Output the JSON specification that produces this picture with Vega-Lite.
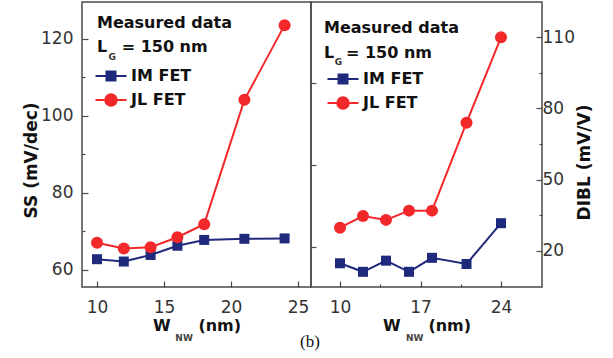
{
  "$schema": "https://vega.github.io/schema/vega-lite/v6.json",
  "padding": {"left": 21, "top": 1, "right": 5, "bottom": 5},
  "background": "white",
  "datasets": {
    "ss": [
      {"w": 10, "series": "IM FET", "v": 62.8},
      {"w": 12, "series": "IM FET", "v": 62.2},
      {"w": 14, "series": "IM FET", "v": 63.9},
      {"w": 16, "series": "IM FET", "v": 66.3},
      {"w": 18, "series": "IM FET", "v": 67.8},
      {"w": 21, "series": "IM FET", "v": 68.1},
      {"w": 24, "series": "IM FET", "v": 68.2},
      {"w": 10, "series": "JL FET", "v": 67.1},
      {"w": 12, "series": "JL FET", "v": 65.6},
      {"w": 14, "series": "JL FET", "v": 65.9},
      {"w": 16, "series": "JL FET", "v": 68.5},
      {"w": 18, "series": "JL FET", "v": 71.9},
      {"w": 21, "series": "JL FET", "v": 104.2},
      {"w": 24, "series": "JL FET", "v": 123.6}
    ],
    "dibl": [
      {"w": 10, "series": "IM FET", "v": 14.7},
      {"w": 12, "series": "IM FET", "v": 11.1},
      {"w": 14, "series": "IM FET", "v": 15.8},
      {"w": 16, "series": "IM FET", "v": 11.1},
      {"w": 18, "series": "IM FET", "v": 17.0},
      {"w": 21, "series": "IM FET", "v": 14.4},
      {"w": 24, "series": "IM FET", "v": 31.6},
      {"w": 10, "series": "JL FET", "v": 29.7},
      {"w": 12, "series": "JL FET", "v": 34.6},
      {"w": 14, "series": "JL FET", "v": 33.0},
      {"w": 16, "series": "JL FET", "v": 36.9},
      {"w": 18, "series": "JL FET", "v": 36.9},
      {"w": 21, "series": "JL FET", "v": 74.0},
      {"w": 24, "series": "JL FET", "v": 110.0}
    ],
    "one": [{}]
  },
  "config": {
    "font": "DejaVu Sans",
    "view": {"stroke": "#4a4a4a", "strokeWidth": 1.5},
    "axis": {
      "domain": false, "grid": false,
      "labelFont": "DejaVu Sans", "labelFontSize": 17, "labelColor": "#333",
      "labelFlush": false, "labelOverlap": false,
      "titleFont": "DejaVu Sans", "titleFontWeight": "bold", "titleColor": "#111",
      "tickColor": "#4a4a4a", "tickWidth": 1.2
    },
    "legend": {
      "orient": "none", "title": null, "padding": 0,
      "labelFont": "DejaVu Sans", "labelFontSize": 16, "labelFontWeight": "bold", "labelColor": "#111",
      "symbolSize": 100, "symbolStrokeWidth": 2, "labelOffset": 12, "rowPadding": 5
    }
  },
  "title": {"text": "(b)", "orient": "bottom", "anchor": "middle", "font": "Liberation Serif", "fontSize": 17, "fontWeight": "normal", "color": "#111", "offset": -10, "dx": 3},
  "spacing": 0,
  "bounds": "flush",
  "resolve": {"scale": {"color": "independent"}, "legend": {"color": "independent"}},
  "hconcat": [
    {
      "width": 229, "height": 285,
      "layer": [
        {
          "data": {"name": "ss"},
          "mark": {"type": "line", "strokeWidth": 2},
          "encoding": {
            "x": {"field": "w", "type": "quantitative", "scale": {"domain": [8.881, 25.97], "nice": false, "zero": false},
              "axis": {"values": [10, 12.5, 15, 17.5, 20, 22.5, 25], "labelExpr": "datum.value % 5 === 0 ? datum.label : ''",
                "title": "W\u00a0\u00a0\u00a0\u00a0 (nm)", "titleFontSize": 16, "titleY": 43, "titleBaseline": "alphabetic",
                "labelPadding": 18, "tickSize": {"condition": {"test": "datum.value % 5 !== 0", "value": -3}, "value": -6}}},
            "y": {"field": "v", "type": "quantitative", "scale": {"domain": [55.58, 129.61], "nice": false, "zero": false},
              "axis": {"values": [60, 70, 80, 90, 100, 110, 120], "labelExpr": "datum.value % 20 === 0 ? datum.label : ''",
                "title": "SS (mV/dec)", "titleFontSize": 17, "titleX": -51, "titleY": 158, "titleBaseline": "middle", "titleAngle": 270,
                "labelPadding": 15, "tickSize": {"condition": {"test": "datum.value % 20 !== 0", "value": -3}, "value": -6}}},
            "color": {"field": "series", "type": "nominal", "scale": {"domain": ["IM FET", "JL FET"], "range": ["#1f2a7c", "#f2282b"]},
              "legend": {"legendX": 21, "legendY": 66,
                "encoding": {"symbols": {
                  "shape": {"value": {"expr": "datum.value === 'IM FET' ? 'M-3.1,0H3.1M-0.9,-0.9H0.9V0.9H-0.9Z' : 'M-3.1,0H3.1M-1.15,0A1.15,1.15,0,1,1,1.15,0A1.15,1.15,0,1,1,-1.15,0Z'"}},
                  "fill": {"value": {"expr": "datum.value === 'IM FET' ? '#1f2a7c' : '#f2282b'"}},
                  "stroke": {"value": {"expr": "datum.value === 'IM FET' ? '#1f2a7c' : '#f2282b'"}},
                  "strokeWidth": {"value": 2}, "opacity": {"value": 1}, "fillOpacity": {"value": 1}}}}}
          }
        },
        {
          "data": {"name": "ss"},
          "mark": {"type": "point", "filled": true, "opacity": 1},
          "encoding": {
            "x": {"field": "w", "type": "quantitative"},
            "y": {"field": "v", "type": "quantitative"},
            "color": {"field": "series", "type": "nominal"},
            "shape": {"field": "series", "type": "nominal", "scale": {"domain": ["IM FET", "JL FET"], "range": ["square", "circle"]}, "legend": null},
            "size": {"field": "series", "type": "nominal", "scale": {"domain": ["IM FET", "JL FET"], "range": [100, 144]}, "legend": null}
          }
        },
        {
          "data": {"name": "one"},
          "mark": {"type": "text", "align": "left", "baseline": "alphabetic", "fontSize": 16, "fontWeight": "bold", "color": "#111"},
          "encoding": {"x": {"datum": 10.0, "type": "quantitative"}, "y": {"datum": 122.9, "type": "quantitative"}, "text": {"value": "Measured data"}}
        },
        {
          "data": {"name": "one"},
          "mark": {"type": "text", "align": "left", "baseline": "alphabetic", "fontSize": 16, "fontWeight": "bold", "color": "#111"},
          "encoding": {"x": {"datum": 10.0, "type": "quantitative"}, "y": {"datum": 116.6, "type": "quantitative"}, "text": {"value": "L"}}
        },
        {
          "data": {"name": "one"},
          "mark": {"type": "text", "align": "left", "baseline": "alphabetic", "fontSize": 9, "fontWeight": "bold", "color": "#333"},
          "encoding": {"x": {"datum": 10.85, "type": "quantitative"}, "y": {"datum": 114.5, "type": "quantitative"}, "text": {"value": "G"}}
        },
        {
          "data": {"name": "one"},
          "mark": {"type": "text", "align": "left", "baseline": "alphabetic", "fontSize": 16, "fontWeight": "bold", "color": "#111"},
          "encoding": {"x": {"datum": 11.84, "type": "quantitative"}, "y": {"datum": 116.6, "type": "quantitative"}, "text": {"value": "= 150 nm"}}
        },
        {
          "data": {"name": "one"},
          "mark": {"type": "text", "align": "center", "baseline": "alphabetic", "fontSize": 9, "fontWeight": "bold", "color": "#444"},
          "encoding": {"x": {"datum": 16.5, "type": "quantitative"}, "y": {"datum": 41.56, "type": "quantitative"}, "text": {"value": "NW"}}
        }
      ]
    },
    {
      "width": 231, "height": 285,
      "resolve": {"axis": {"y": "independent"}},
      "layer": [
        {
          "data": {"name": "dibl"},
          "mark": {"type": "line", "strokeWidth": 2},
          "encoding": {
            "x": {"field": "w", "type": "quantitative", "scale": {"domain": [7.478, 27.565], "nice": false, "zero": false},
              "axis": {"values": [10, 13.5, 17, 20.5, 24], "labelExpr": "(datum.value - 10) % 7 === 0 ? datum.label : ''",
                "title": "W\u00a0\u00a0\u00a0\u00a0 (nm)", "titleFontSize": 16, "titleY": 43, "titleBaseline": "alphabetic",
                "labelPadding": 18, "tickSize": {"condition": {"test": "(datum.value - 10) % 7 !== 0", "value": -3}, "value": -6}}},
            "y": {"field": "v", "type": "quantitative", "scale": {"domain": [4.69, 124.89], "nice": false, "zero": false},
              "axis": {"orient": "right", "values": [20, 35, 50, 65, 80, 95, 110], "labelExpr": "(datum.value - 20) % 30 === 0 ? datum.label : ''",
                "title": "DIBL (mV/V)", "titleFontSize": 17, "titleX": 42, "titleY": 160, "titleBaseline": "middle", "titleAngle": 270,
                "labelPadding": 6, "labelAlign": "left", "tickSize": {"condition": {"test": "(datum.value - 20) % 30 !== 0", "value": -3}, "value": -6}}},
            "color": {"field": "series", "type": "nominal", "scale": {"domain": ["IM FET", "JL FET"], "range": ["#1f2a7c", "#f2282b"]},
              "legend": {"legendX": 24, "legendY": 69,
                "encoding": {"symbols": {
                  "shape": {"value": {"expr": "datum.value === 'IM FET' ? 'M-3.1,0H3.1M-0.9,-0.9H0.9V0.9H-0.9Z' : 'M-3.1,0H3.1M-1.15,0A1.15,1.15,0,1,1,1.15,0A1.15,1.15,0,1,1,-1.15,0Z'"}},
                  "fill": {"value": {"expr": "datum.value === 'IM FET' ? '#1f2a7c' : '#f2282b'"}},
                  "stroke": {"value": {"expr": "datum.value === 'IM FET' ? '#1f2a7c' : '#f2282b'"}},
                  "strokeWidth": {"value": 2}, "opacity": {"value": 1}, "fillOpacity": {"value": 1}}}}}
          }
        },
        {
          "data": {"name": "dibl"},
          "mark": {"type": "point", "filled": true, "opacity": 1},
          "encoding": {
            "x": {"field": "w", "type": "quantitative"},
            "y": {"field": "v", "type": "quantitative",
              "axis": {"orient": "left", "values": [21.6, 56.2, 90.8], "labels": false, "title": null, "tickSize": -5}},
            "color": {"field": "series", "type": "nominal"},
            "shape": {"field": "series", "type": "nominal", "scale": {"domain": ["IM FET", "JL FET"], "range": ["square", "circle"]}, "legend": null},
            "size": {"field": "series", "type": "nominal", "scale": {"domain": ["IM FET", "JL FET"], "range": [100, 144]}, "legend": null}
          }
        },
        {
          "data": {"name": "one"},
          "mark": {"type": "text", "align": "left", "baseline": "alphabetic", "fontSize": 16, "fontWeight": "bold", "color": "#111"},
          "encoding": {"x": {"datum": 8.61, "type": "quantitative"}, "y": {"datum": 112.0, "type": "quantitative", "axis": null}, "text": {"value": "Measured data"}}
        },
        {
          "data": {"name": "one"},
          "mark": {"type": "text", "align": "left", "baseline": "alphabetic", "fontSize": 16, "fontWeight": "bold", "color": "#111"},
          "encoding": {"x": {"datum": 8.61, "type": "quantitative"}, "y": {"datum": 101.3, "type": "quantitative", "axis": null}, "text": {"value": "L"}}
        },
        {
          "data": {"name": "one"},
          "mark": {"type": "text", "align": "left", "baseline": "alphabetic", "fontSize": 9, "fontWeight": "bold", "color": "#333"},
          "encoding": {"x": {"datum": 9.55, "type": "quantitative"}, "y": {"datum": 98.4, "type": "quantitative", "axis": null}, "text": {"value": "G"}}
        },
        {
          "data": {"name": "one"},
          "mark": {"type": "text", "align": "left", "baseline": "alphabetic", "fontSize": 16, "fontWeight": "bold", "color": "#111"},
          "encoding": {"x": {"datum": 10.52, "type": "quantitative"}, "y": {"datum": 101.3, "type": "quantitative", "axis": null}, "text": {"value": "= 150 nm"}}
        },
        {
          "data": {"name": "one"},
          "mark": {"type": "text", "align": "center", "baseline": "alphabetic", "fontSize": 9, "fontWeight": "bold", "color": "#444"},
          "encoding": {"x": {"datum": 16.5, "type": "quantitative"}, "y": {"datum": -18.1, "type": "quantitative", "axis": null}, "text": {"value": "NW"}}
        }
      ]
    }
  ]
}
